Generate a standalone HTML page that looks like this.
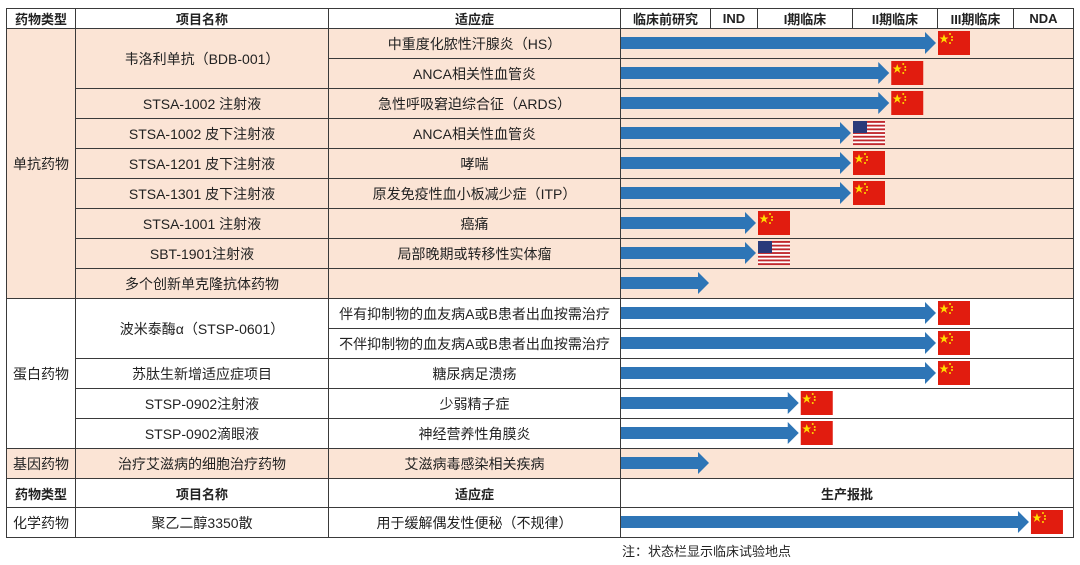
<!DOCTYPE html>
<html><head><meta charset="utf-8">
<style>
body{margin:0;width:1080px;height:565px;background:#fff;position:relative;overflow:hidden;font-family:"Liberation Sans","Noto Sans CJK SC",sans-serif;color:#222}
.c{position:absolute;box-sizing:border-box;border:1px solid #3a3a3a;display:flex;align-items:center;justify-content:center;font-size:14px;white-space:nowrap}
.h{font-weight:bold;font-size:13px}
.pk{background:#fbe4d5}
svg{position:absolute;left:0;top:0}
</style></head><body>
<div id="tbl"></div>
<svg id="chart" width="1080" height="565"></svg>
<div style="position:absolute;left:622px;top:541px;font-size:13px">注：状态栏显示临床试验地点</div>
<script>
// data
const stageLabels=["临床前研究","IND","I期临床","II期临床","III期临床","NDA"];
const projectNames=["韦洛利单抗（BDB-001）","韦洛利单抗（BDB-001）","STSA-1002 注射液","STSA-1002 皮下注射液","STSA-1201 皮下注射液","STSA-1301 皮下注射液","STSA-1001 注射液","SBT-1901注射液","多个创新单克隆抗体药物","波米泰酶α（STSP-0601）","波米泰酶α（STSP-0601）","苏肽生新增适应症项目","STSP-0902注射液","STSP-0902滴眼液","治疗艾滋病的细胞治疗药物"];
const indications=["中重度化脓性汗腺炎（HS）","ANCA相关性血管炎","急性呼吸窘迫综合征（ARDS）","ANCA相关性血管炎","哮喘","原发免疫性血小板减少症（ITP）","癌痛","局部晚期或转移性实体瘤","","伴有抑制物的血友病A或B患者出血按需治疗","不伴抑制物的血友病A或B患者出血按需治疗","糖尿病足溃疡","少弱精子症","神经营养性角膜炎","艾滋病毒感染相关疾病"];
const progress=[4.0,3.45,3.45,3.0,3.0,3.0,2.0,2.0,1.0,4.0,4.0,4.0,2.45,2.45,1.0];
const flags=["CN","CN","CN","US","CN","CN","CN","US","","CN","CN","CN","CN","CN",""];
const chemProgress=0.905;

const tbl=document.getElementById('tbl');
const svg=document.getElementById('chart');
const NS="http://www.w3.org/2000/svg";
const bounds=[620,710,757,852,937,1013,1073];
const top0=28,rh=30;
function xStage(v){const i=Math.min(Math.floor(v),5);return bounds[i]+(v-i)*(bounds[i+1]-bounds[i]);}
function yRow(i){return top0+i*rh;}
function cell(x,y,w,h,txt,cls,name){const d=document.createElement('div');d.className='c '+(cls||'');d.style.cssText=`left:${x}px;top:${y}px;width:${w+1}px;height:${h+1}px`;d.textContent=txt;


tbl.appendChild(d);}
cell(6,8,69,20,"药物类型","h","header-type");
cell(75,8,253,20,"项目名称","h","header-project");
cell(328,8,292,20,"适应症","h","header-indication");
for(let s=0;s<6;s++)cell(bounds[s],8,bounds[s+1]-bounds[s],20,stageLabels[s],"h","header-stage");
cell(6,yRow(0),69,rh*9,"单抗药物","pk","type-antibody");
cell(6,yRow(9),69,rh*5,"蛋白药物","","type-protein");
cell(6,yRow(14),69,rh,"基因药物","pk","type-gene");
for(let i=0;i<15;i++){
  const pk=(i<9||i==14)?"pk":"";
  if(i==1||i==10){}else{const sp=(i==0||i==9)?2:1;cell(75,yRow(i),253,rh*sp,projectNames[i],pk,"project-name");}
  cell(328,yRow(i),292,rh,indications[i],pk,"indication");
  cell(620,yRow(i),453,rh,"",pk,"progress-cell");
}
cell(6,478,69,29,"药物类型","h","header2-type");
cell(75,478,253,29,"项目名称","h","header2-project");
cell(328,478,292,29,"适应症","h","header2-indication");
cell(620,478,453,29,"生产报批","h","header2-approval");
cell(6,507,69,30,"化学药物","","type-chemical");
cell(75,507,253,30,"聚乙二醇3350散","","project-name");
cell(328,507,292,30,"用于缓解偶发性便秘（不规律）","","indication");
cell(620,507,453,30,"","","progress-cell");

function arrow(x0,x1,cy){const p=document.createElementNS(NS,'polygon');
p.setAttribute('points',`${x0},${cy-6} ${x1-11},${cy-6} ${x1-11},${cy-11} ${x1},${cy} ${x1-11},${cy+11} ${x1-11},${cy+6} ${x0},${cy+6}`);
p.setAttribute('fill','#2e75b6');


svg.appendChild(p);}
function flag(type,x,cy){const g=document.createElementNS(NS,'g');


const y=cy-12;
if(type=='CN'){g.innerHTML=`<rect x="${x}" y="${y}" width="32" height="24" fill="#e11c0f"/><polygon points="${x+6},${y+3} ${x+7.2},${y+6.5} ${x+10.5},${y+6.5} ${x+7.8},${y+8.5} ${x+9},${y+12} ${x+6},${y+9.8} ${x+3},${y+12} ${x+4.2},${y+8.5} ${x+1.5},${y+6.5} ${x+4.8},${y+6.5}" fill="#ffde00"/><circle cx="${x+12}" cy="${y+3}" r="1" fill="#ffde00"/><circle cx="${x+14}" cy="${y+6}" r="1" fill="#ffde00"/><circle cx="${x+14}" cy="${y+9}" r="1" fill="#ffde00"/><circle cx="${x+12}" cy="${y+12}" r="1" fill="#ffde00"/>`;}
else{let s=`<rect x="${x}" y="${y}" width="32" height="24" fill="#fff"/>`;for(let k=0;k<7;k++)s+=`<rect x="${x}" y="${y+k*3.7}" width="32" height="1.85" fill="#c0282d"/>`;s+=`<rect x="${x}" y="${y}" width="14" height="12" fill="#2a3a7a"/>`;g.innerHTML=s;}
svg.appendChild(g);}
progress.forEach((v,i)=>{const cy=yRow(i)+rh/2;const xe=xStage(v);arrow(621,xe-1,cy);if(flags[i])flag(flags[i],xe+1,cy);});
{const cy=522;const xe=620+chemProgress*453;arrow(621,xe-1,cy);flag("CN",xe+1,cy);}
</script>
</body></html>
